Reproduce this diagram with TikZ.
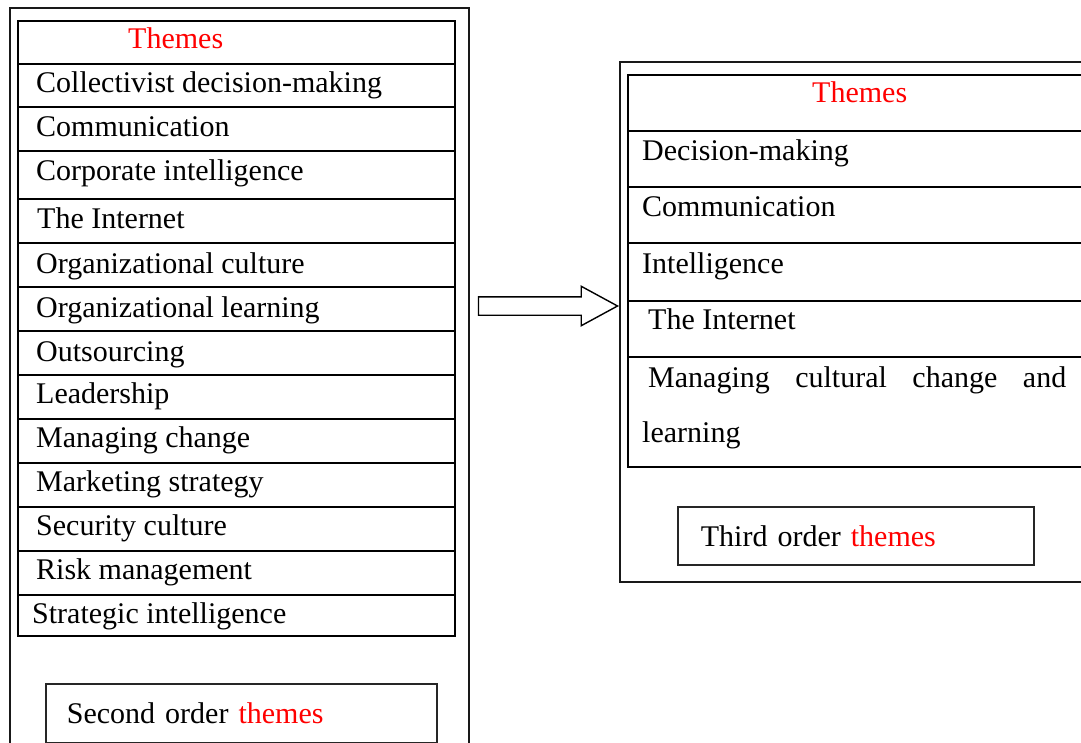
\documentclass[tikz,border=0pt]{standalone}
\usepackage{fontspec}
\setmainfont{Liberation Serif}
\usepackage{xcolor}
\usetikzlibrary{shapes.arrows}

\begin{document}
\begin{tikzpicture}[x=1pt,y=-1pt]
\tikzstyle{frame} =[draw=black!90, line width=2.4pt]
\tikzstyle{grid} =[draw, line width=1.8pt]
\tikzstyle{item} =[anchor=base west, inner sep=0pt, font=\fontsize{30}{36}\selectfont]
\tikzstyle{labelbox} =[draw=black!85, line width=1.8pt, align=left, inner ysep=0pt, anchor=north west, font=\fontsize{30}{36}\selectfont]
\tikzstyle{blockarrow} =[draw, single arrow, line width=1.4pt, inner xsep=0pt, inner ysep=8.5pt, minimum height=139pt, minimum width=38pt, single arrow head extend=10.5pt, single arrow tip angle=57, single arrow head indent=0pt]

\useasboundingbox (0,0) rectangle (1081,743);
\clip (0,0) rectangle (1081,743);

% second order themes
\draw[frame] (10,760) -- (10,8) -- (469,8) -- (469,760);
\draw[grid] (18,21) rectangle (455,636);
\foreach \y in {64,107,151,199,243,287,331,375,419,463,507,551,595}
  \draw[grid] (18,\y) -- (455,\y);
\node[item, text=red] (lhead) at (128,49) {Themes};
\foreach \n/\x/\y/\t in {l1/36/93/{Collectivist decision-making},
    l2/36/137/Communication, l3/36/181/{Corporate intelligence},
    l4/37/229/{The Internet}, l5/36/273/{Organizational culture},
    l6/36/317/{Organizational learning}, l7/36/361/Outsourcing,
    l8/36/403/Leadership, l9/36/447/{Managing change},
    l10/36/491/{Marketing strategy}, l11/36/535/{Security culture},
    l12/36/579/{Risk management}, l13/32/623/{Strategic intelligence}}
  \node[item] (\n) at (\x,\y) {\t};
\node[labelbox, text width=349pt, inner xsep=21pt, minimum height=59pt] (second) at (45,683) {Second order \textcolor{red}{themes}};

% arrow
\node[blockarrow, anchor=tip] (shift) at (619,306) {};

% third order themes
\draw[frame] (1100,62) -- (620,62) -- (620,582) -- (1100,582);
\draw[grid] (1100,75) -- (628,75) -- (628,467) -- (1100,467);
\foreach \y in {131,187,243,301,357}
  \draw[grid] (628,\y) -- (1100,\y);
\node[item, text=red] (rhead) at (812,103) {Themes};
\node[item] (r1) at (642,161) {Decision-making};
\node[item] (r2) at (642,217) {Communication};
\node[item] (r3) at (642,273) {Intelligence};
\node[item] (r4) at (648,329) {The Internet};
\node[item, text width=418pt, align=left, font=\fontsize{30}{55}\selectfont] (r5) at (648,387)
  {Managing\hfill cultural\hfill change\hfill and\\\hspace*{-6pt}learning};
\node[labelbox, text width=310pt, inner xsep=23pt, minimum height=58pt] (third) at (677,506) {Third order \textcolor{red}{themes}};
\end{tikzpicture}
\end{document}
